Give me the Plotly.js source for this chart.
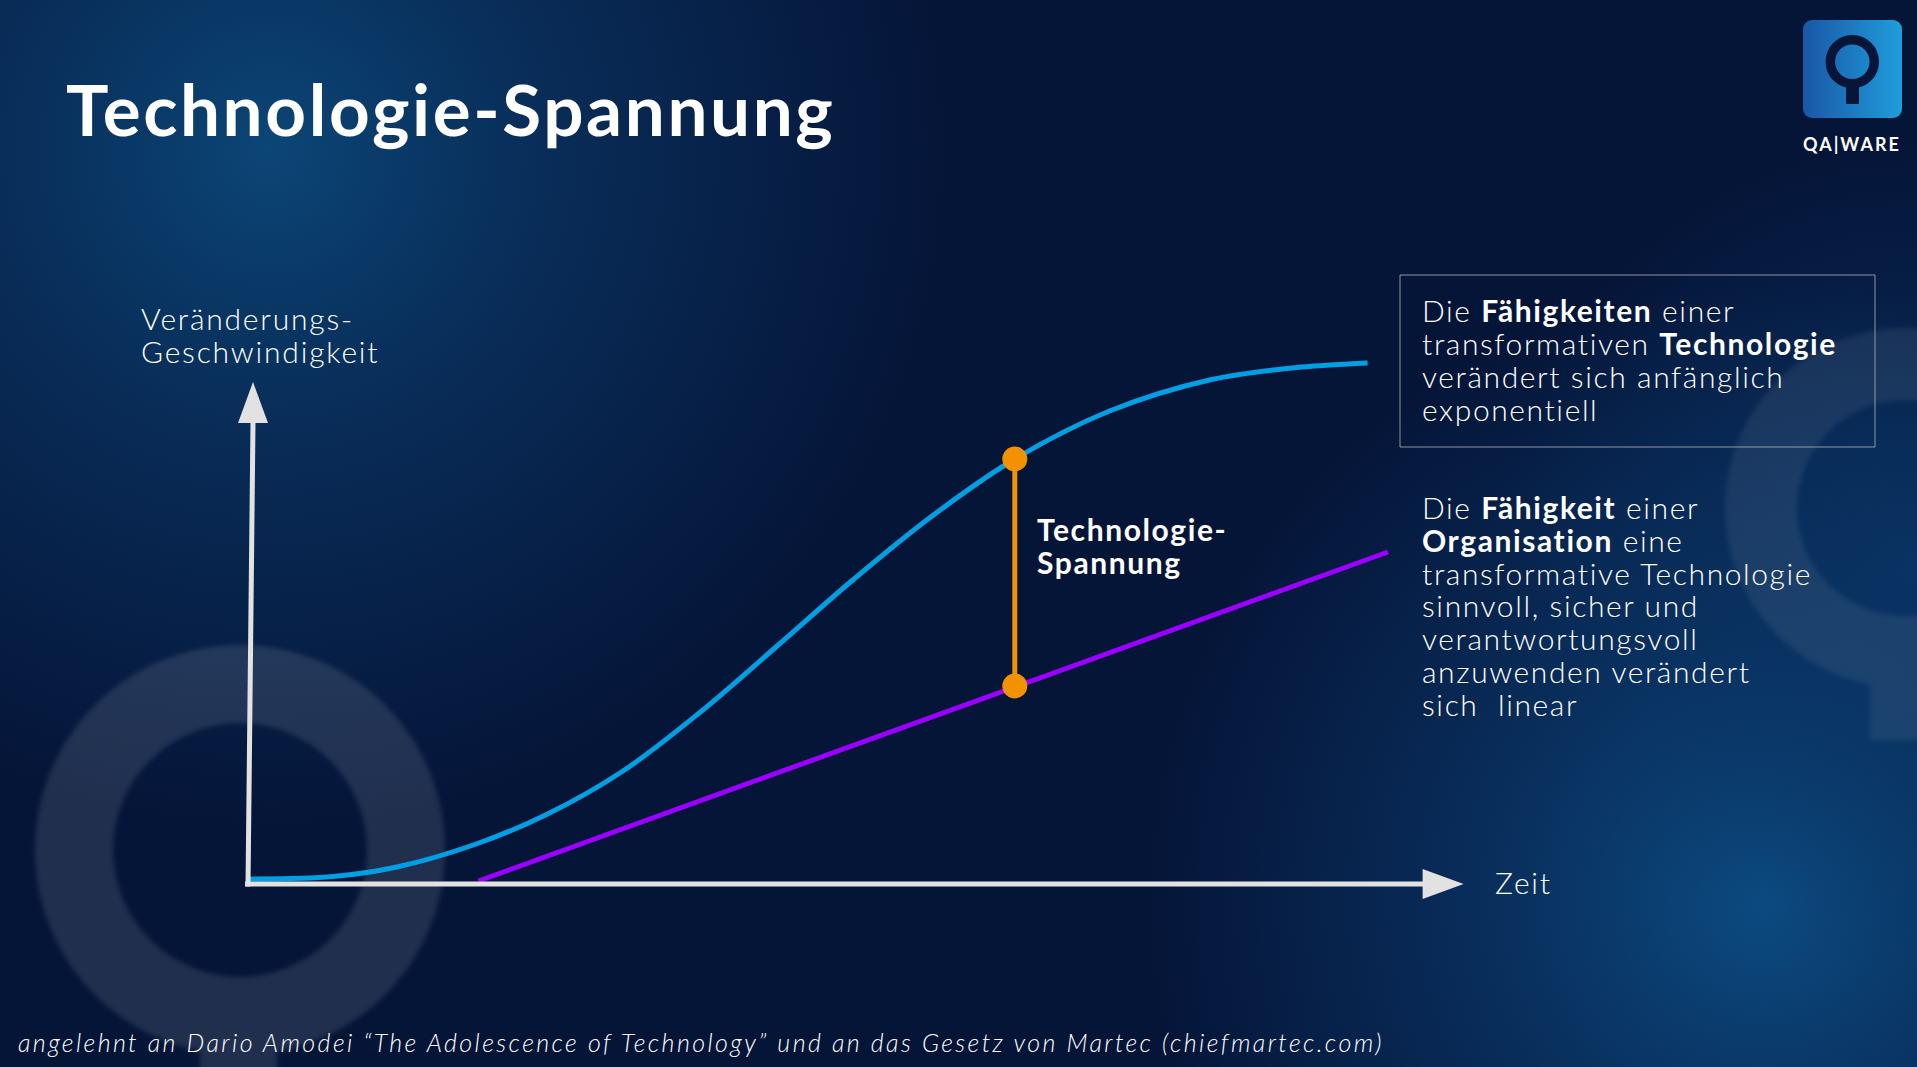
<!DOCTYPE html>
<html>
<head>
<meta charset="utf-8">
<script src="https://cdn.plot.ly/plotly-3.0.1.min.js"></script>
<style>
html,body{margin:0;padding:0;background:#051538;overflow:hidden}
#chart{width:1917px;height:1067px}
</style>
</head>
<body>
<div id="chart"></div>
<script>
// ---------- data (conceptual units: time 0..100, rate of change 0..100) ----------
const techTime = [0, 7.1, 12.4, 18.9, 24.8, 31.25, 37.6, 44, 50.4, 56.9, 63.9, 71.8, 80.3, 87, 93.3];
const techRate = [1, 1.5, 3.4, 7.9, 13.8, 22.6, 34.2, 47.4, 60.8, 73.4, 85, 94.6, 100.9, 103.2, 104.2];
const orgTime = [19.2, 95];
const orgRate = [0.6, 66.4];
const gapTime = [63.9, 63.9];
const gapRate = [85, 39.6];
const axisTipX = 101.3;   // x-axis arrow tip (time units)
const axisTipY = 100.4;   // y-axis arrow tip (rate units)

// ---------- texts ----------
const titleText = 'Technologie-Spannung';
const yLabelLines = ['Veränderungs-', 'Geschwindigkeit'];
const xLabelText = 'Zeit';
const gapLabelLines = ['Technologie-', 'Spannung'];
const techNoteLines = ['Die <b>Fähigkeiten</b> einer', 'transformativen <b>Technologie</b>', 'verändert sich anfänglich', 'exponentiell'];
const orgNoteLines = ['Die <b>Fähigkeit</b> einer', '<b>Organisation</b> eine', 'transformative Technologie', 'sinnvoll, sicher und', 'verantwortungsvoll', 'anzuwenden verändert', 'sich \u00a0linear'];
const sourceText = 'angelehnt an Dario Amodei “The Adolescence of Technology” und an das Gesetz von Martec (chiefmartec.com)';
const logoText = 'QA|WARE';

// ---------- geometry / style ----------
const W = 1917, H = 1067;
const ORIGIN = {x: 248, y: 884};
const PX_X = 12, PX_Y = 5;
const xRange = [-ORIGIN.x / PX_X, (W - ORIGIN.x) / PX_X];
const yRange = [-(H - ORIGIN.y) / PX_Y, ORIGIN.y / PX_Y];
const fx = px => px / W;
const fy = py => 1 - py / H;
const FONT = 'Lato, "Noto Sans", sans-serif';
const AXIS_COLOR = '#e2e2e2';
const PLOTLY_LINE_SPACING = 1.3;

// one annotation per text block; glyph size set on the spans, line pitch from the base size
function textBlock(lines, left, firstBaseline, pitch, size, weight, spacing, extra) {
  const n = lines.length;
  const base = n > 1 ? pitch / PLOTLY_LINE_SPACING : size;
  const center = firstBaseline + (n - 1) * pitch / 2 - 0.387 * size + 1;
  const text = lines.map(l => `<span style="font-size:${size}px;letter-spacing:${spacing}px">${l}</span>`).join('<br>');
  return Object.assign({
    text: text, xref: 'paper', yref: 'paper',
    x: fx(left), y: fy(center),
    xanchor: 'left', yanchor: 'middle', showarrow: false, align: 'left',
    font: {family: FONT, size: base, color: '#ffffff', weight: weight}
  }, extra || {});
}

const annotations = [
  textBlock([titleText], 64, 135, 0, 71, 700, 2.6),
  textBlock(yLabelLines, 139, 328.5, 33, 30, 300, 1.8),
  textBlock([xLabelText], 1493, 893, 0, 30, 300, 1.8),
  textBlock(gapLabelLines, 1035, 539.5, 33, 30, 700, 1.6),
  textBlock(techNoteLines, 1420, 321, 33, 30, 300, 1.6),
  textBlock(orgNoteLines, 1420, 518, 32.8, 30, 300, 1.6),
  textBlock(['<i>' + sourceText + '</i>'], 16, 1051, 0, 25, 300, 2.4),
  textBlock(['<b>' + logoText + '</b>'], 1852, 150, 0, 18, 700, 2, {xanchor: 'center'})
];

// ---------- decorative background (gradient glows + faint Q rings) ----------
const bgSvg = `<svg xmlns="http://www.w3.org/2000/svg" width="1917" height="1067" viewBox="0 0 1917 1067">
<defs>
<radialGradient id="g1" cx="270" cy="150" r="680" gradientUnits="userSpaceOnUse">
<stop offset="0" stop-color="#0b4677"/><stop offset="0.45" stop-color="#0a3462" stop-opacity="0.7"/><stop offset="1" stop-color="#0a3462" stop-opacity="0"/></radialGradient>
<radialGradient id="g2" cx="1765" cy="900" r="620" gradientUnits="userSpaceOnUse">
<stop offset="0" stop-color="#0c4c82"/><stop offset="0.5" stop-color="#0a3566" stop-opacity="0.7"/><stop offset="1" stop-color="#0a3566" stop-opacity="0"/></radialGradient>
<radialGradient id="g3" cx="1917" cy="560" r="420" gradientUnits="userSpaceOnUse">
<stop offset="0" stop-color="#0a3566" stop-opacity="0.8"/><stop offset="1" stop-color="#0a3566" stop-opacity="0"/></radialGradient>
<filter id="bl" x="-10%" y="-10%" width="120%" height="120%"><feGaussianBlur stdDeviation="2.5"/></filter>
</defs>
<rect width="1917" height="1067" fill="#051538"/>
<rect width="1917" height="1067" fill="url(#g1)"/>
<rect width="1917" height="1067" fill="url(#g2)"/>
<rect width="1917" height="1067" fill="url(#g3)"/>
<g opacity="0.11" filter="url(#bl)" fill="#ffffff">
<path fill-rule="evenodd" d="M35,850 a205,205 0 1,0 410,0 a205,205 0 1,0 -410,0 Z M113,850 a127,127 0 1,0 254,0 a127,127 0 1,0 -254,0 Z"/>
<rect x="200" y="1030" width="77" height="60"/>
</g>
<g opacity="0.07" filter="url(#bl)" fill="#ffffff">
<path fill-rule="evenodd" d="M1725,508 a180,180 0 1,0 360,0 a180,180 0 1,0 -360,0 Z M1797,508 a108,108 0 1,0 216,0 a108,108 0 1,0 -216,0 Z"/>
<rect x="1870" y="670" width="70" height="70"/>
</g>
</svg>`;

const logoSvg = `<svg xmlns="http://www.w3.org/2000/svg" width="99" height="98" viewBox="0 0 99 98">
<defs><linearGradient id="lg" x1="0" y1="0" x2="1" y2="0">
<stop offset="0" stop-color="#1a57a6"/><stop offset="1" stop-color="#1f9ddb"/></linearGradient></defs>
<rect x="0" y="0" width="99" height="98" rx="9" ry="9" fill="url(#lg)"/>
<circle cx="49.3" cy="41.7" r="22" fill="none" stroke="#061538" stroke-width="9.4"/>
<rect x="43" y="60" width="13" height="24" fill="#061538"/>
</svg>`;

const svgUri = s => 'data:image/svg+xml;charset=utf-8,' + encodeURIComponent(s);

const images = [
  {source: svgUri(bgSvg), xref: 'paper', yref: 'paper', x: 0, y: 1, sizex: 1, sizey: 1,
   xanchor: 'left', yanchor: 'top', sizing: 'stretch', layer: 'below'},
  {source: svgUri(logoSvg), xref: 'paper', yref: 'paper', x: fx(1803), y: fy(20), sizex: 99 / W, sizey: 98 / H,
   xanchor: 'left', yanchor: 'top', sizing: 'stretch', layer: 'above'}
];

// ---------- axes drawn as arrows ----------
const headLen = 41, headHalf = 15;
const xLineEnd = axisTipX - headLen / PX_X;
const yTopX = 5 / PX_X;                 // slight lean of the hand-drawn y axis
const yLineEnd = axisTipY - headLen / PX_Y;
const shapes = [
  {type: 'line', xref: 'x', yref: 'y', x0: -0.25, y0: 0, x1: xLineEnd + 0.1, y1: 0,
   line: {color: AXIS_COLOR, width: 5}, layer: 'above'},
  {type: 'path', xref: 'x', yref: 'y', xsizemode: 'pixel', ysizemode: 'pixel', xanchor: xLineEnd, yanchor: 0,
   path: `M0,${-headHalf} L${headLen},0 L0,${headHalf} Z`, fillcolor: AXIS_COLOR, line: {width: 0}, layer: 'above'},
  {type: 'line', xref: 'x', yref: 'y', x0: 0, y0: -0.5, x1: yTopX, y1: yLineEnd + 0.2,
   line: {color: AXIS_COLOR, width: 5}, layer: 'above'},
  {type: 'path', xref: 'x', yref: 'y', xsizemode: 'pixel', ysizemode: 'pixel', xanchor: yTopX, yanchor: yLineEnd,
   path: `M${-headHalf},0 L0,${headLen} L${headHalf},0 Z`, fillcolor: AXIS_COLOR, line: {width: 0}, layer: 'above'},
  // note box
  {type: 'rect', xref: 'paper', yref: 'paper', x0: fx(1400), x1: fx(1875), y0: fy(447), y1: fy(275),
   line: {color: 'rgba(190,190,190,0.75)', width: 1}, fillcolor: 'rgba(0,0,0,0)', layer: 'above'}
];

const traces = [
  {x: techTime, y: techRate, type: 'scatter', mode: 'lines',
   line: {color: '#009ee2', width: 5, shape: 'spline', smoothing: 1}, hoverinfo: 'skip'},
  {x: orgTime, y: orgRate, type: 'scatter', mode: 'lines',
   line: {color: '#9900ff', width: 5}, hoverinfo: 'skip'},
  {x: gapTime, y: gapRate, type: 'scatter', mode: 'lines+markers',
   line: {color: '#f39200', width: 5}, marker: {color: '#f39200', size: 25}, hoverinfo: 'skip'}
];

const layout = {
  width: W, height: H,
  margin: {l: 0, r: 0, t: 0, b: 0, pad: 0},
  paper_bgcolor: '#051538', plot_bgcolor: 'rgba(0,0,0,0)',
  showlegend: false, hovermode: false,
  xaxis: {range: xRange, visible: false, fixedrange: true},
  yaxis: {range: yRange, visible: false, fixedrange: true},
  font: {family: FONT, color: '#ffffff'},
  annotations: annotations, shapes: shapes, images: images
};

Plotly.newPlot('chart', traces, layout, {displayModeBar: false, staticPlot: true});
</script>
</body>
</html>
